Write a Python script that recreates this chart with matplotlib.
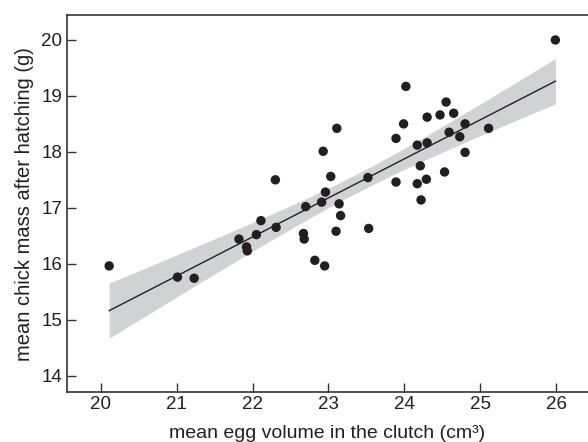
import numpy as np
import matplotlib
matplotlib.use("Agg")
import matplotlib.pyplot as plt

egg_volume = [20.11, 21.01, 21.23, 21.82, 21.92, 21.93, 22.05, 22.11, 22.30, 22.31,
              22.67, 22.68, 22.70, 22.82, 22.91, 22.93, 22.95, 22.96, 23.03, 23.10,
              23.11, 23.14, 23.16, 23.52, 23.53, 23.89, 23.89, 23.99, 24.02, 24.17,
              24.17, 24.21, 24.22, 24.29, 24.30, 24.30, 24.47, 24.53, 24.55, 24.59,
              24.65, 24.73, 24.80, 24.80, 25.11, 25.99]
chick_mass = [15.96, 15.76, 15.74, 16.44, 16.30, 16.23, 16.52, 16.77, 17.50, 16.65,
              16.54, 16.44, 17.02, 16.06, 17.10, 18.01, 15.96, 17.28, 17.56, 16.58,
              18.42, 17.07, 16.86, 17.54, 16.63, 17.46, 18.24, 18.50, 19.17, 18.12,
              17.43, 17.75, 17.14, 17.51, 18.16, 18.62, 18.66, 17.64, 18.89, 18.35,
              18.69, 18.27, 18.50, 17.99, 18.42, 20.00]
x_ticks = [20, 21, 22, 23, 24, 25, 26]
y_ticks = [14, 15, 16, 17, 18, 19, 20]

x = np.array(egg_volume)
y = np.array(chick_mass)
n = len(x)
slope, intercept = np.polyfit(x, y, 1)
xs = np.linspace(x.min(), x.max(), 200)
ys = intercept + slope * xs
resid = y - (intercept + slope * x)
s = np.sqrt(np.sum(resid**2) / (n - 2))
t = 2.015
se = s * np.sqrt(1.0 / n + (xs - x.mean())**2 / np.sum((x - x.mean())**2))

plt.rcParams['font.family'] = ['Liberation Sans', 'DejaVu Sans']
fig = plt.figure(figsize=(5.88, 4.42), dpi=100)
ax = fig.add_axes([0.1134, 0.1124, 0.8866, 0.8536])

ax.fill_between(xs, ys - t * se, ys + t * se, color='#d1d2d4', lw=0, zorder=1)
ax.plot(xs, ys, color='#231f20', lw=1.0, zorder=2)
ax.scatter(x, y, s=46, color='#231f20', edgecolors='none', zorder=3)

ax.set_xlim(19.55, 26.42)
ax.set_ylim(13.70, 20.446)
ax.set_xticks(x_ticks)
ax.set_yticks(y_ticks)
ax.tick_params(direction='in', length=6.5, width=1.0, color='#333333',
               labelsize=13.5, labelcolor='#231f20')
ax.tick_params(axis='x', pad=2.5)
ax.tick_params(axis='y', pad=3.3)
for side in ['left', 'bottom', 'top']:
    ax.spines[side].set_linewidth(1.2)
    ax.spines[side].set_color('#333333')
ax.spines['right'].set_visible(False)

ax.set_xlabel('mean egg volume in the clutch (cm\u00b3)', fontsize=14, color='#231f20', labelpad=9)
ax.set_ylabel('mean chick mass after hatching (g)', fontsize=14.5, color='#231f20', labelpad=5)

fig.savefig('out.png', dpi=100)
